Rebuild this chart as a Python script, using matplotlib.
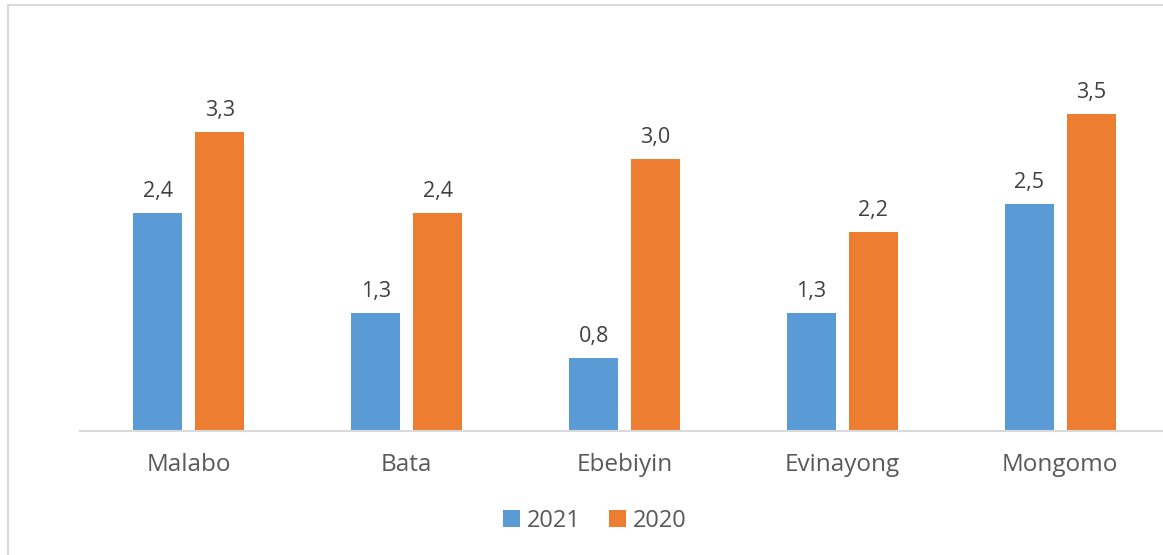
import numpy as np
import matplotlib.pyplot as plt
import matplotlib.patches as patches

plt.rcParams['font.family'] = ['Open Sans', 'DejaVu Sans']

# -------------------------------------------------
# Data
# -------------------------------------------------
cities = ['Malabo', 'Bata', 'Ebebiyin', 'Evinayong', 'Mongomo']
values_2021 = [2.4, 1.3, 0.8, 1.3, 2.5]
values_2020 = [3.3, 2.4, 3.0, 2.2, 3.5]
series_names = ['2021', '2020']

BLUE = '#5B9BD5'
ORANGE = '#ED7D31'
GRID = '#D9D9D9'

W, H = 1163, 555
fig = plt.figure(figsize=(W / 100, H / 100), dpi=100)

# chart-area border (Excel style), clipped by the image edge
fig.patches.append(patches.Rectangle(
    (8 / W, -0.05), 1.1, 1 - 5 / H + 0.05, transform=fig.transFigure,
    fill=False, edgecolor=GRID, linewidth=1.5,
))

ax = fig.add_axes([80 / W, (H - 431) / H, (1169 - 80) / W, (431 - 23) / H])
x = np.arange(len(cities))
bw = 0.225
off = 0.142

bars_a = ax.bar(x - off, values_2021, bw, color=BLUE, label=series_names[0])
bars_b = ax.bar(x + off, values_2020, bw, color=ORANGE, label=series_names[1])

for bars in (bars_a, bars_b):
    for b in bars:
        v = b.get_height()
        ax.annotate(
            f'{v:.1f}'.replace('.', ','),
            (b.get_x() + b.get_width() / 2, v),
            xytext=(0, 11.5), textcoords='offset points',
            ha='center', va='baseline', fontsize=15.5, color='#404040',
        )

ax.set_xlim(-0.5, len(cities) - 0.5)
ax.set_ylim(0, 4.5)
ax.set_yticks([])
ax.set_xticks(x)
ax.set_xticklabels(cities, fontsize=17.5, color='#595959')
ax.tick_params(axis='x', length=0, pad=15.5)
for s in ('top', 'right', 'left'):
    ax.spines[s].set_visible(False)
ax.spines['bottom'].set_color(GRID)
ax.spines['bottom'].set_linewidth(1.5)

fig.legend(
    loc='center', bbox_to_anchor=(595 / W, 1 - 521 / H), ncol=2,
    frameon=False, fontsize=17, labelcolor='#595959',
    handlelength=0.7, handleheight=0.7, handletextpad=0.3,
    columnspacing=1.2,
)

fig.savefig('out.png', dpi=100)
